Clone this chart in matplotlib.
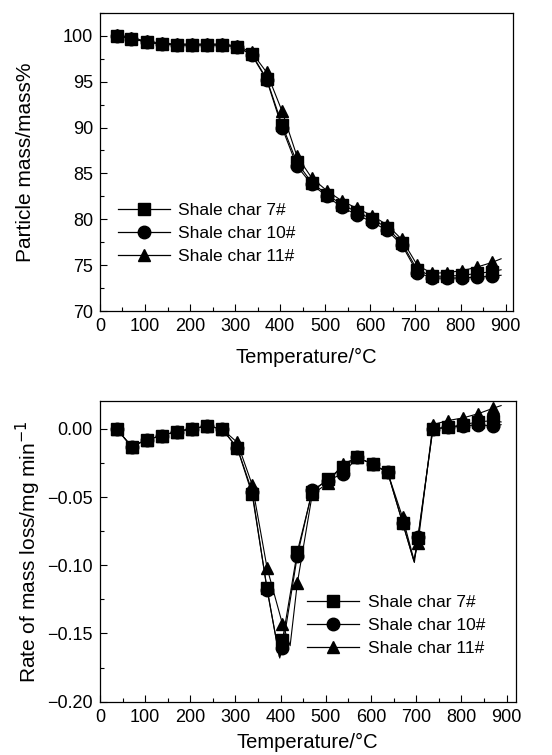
import numpy as np
import matplotlib.pyplot as plt
from matplotlib.lines import Line2D
from matplotlib.ticker import MultipleLocator, FuncFormatter

plt.rcParams['font.family'] = ['Liberation Sans', 'DejaVu Sans']

# temperatures of the marked points
T = [37, 70, 104, 137, 170, 204, 237, 270, 304, 337, 370, 404, 437,
     470, 504, 537, 570, 604, 637, 670, 704, 737, 770, 804, 837, 870]

# particle mass, mass%
m7 = [100.0, 99.7, 99.3, 99.1, 99.0, 99.0, 99.0, 99.0, 98.8, 98.0, 95.3, 90.3, 86.2,
      84.0, 82.7, 81.6, 80.8, 80.0, 79.1, 77.4, 74.5, 73.8, 73.8, 73.9, 74.1, 74.3]
m10 = [100.0, 99.7, 99.3, 99.1, 99.0, 99.0, 99.0, 99.0, 98.8, 97.9, 95.2, 90.0, 85.8,
       83.8, 82.5, 81.3, 80.5, 79.7, 78.8, 77.2, 74.2, 73.6, 73.6, 73.6, 73.7, 73.8]
m11 = [100.1, 99.8, 99.4, 99.2, 99.1, 99.1, 99.1, 99.1, 98.9, 98.2, 96.0, 91.8, 86.9,
       84.5, 83.1, 82.0, 81.2, 80.4, 79.4, 77.8, 75.0, 74.1, 74.2, 74.4, 74.8, 75.3]
# line end points beyond the last marker
m_end_T = 890
m_end = {"7": 74.5, "10": 73.9, "11": 75.7}

# rate of mass loss, mg/min
r7 = [0.000, -0.013, -0.008, -0.005, -0.002, 0.000, 0.002, 0.000, -0.014, -0.048, -0.117, -0.155, -0.090,
      -0.046, -0.037, -0.028, -0.021, -0.026, -0.032, -0.069, -0.080, 0.000, 0.001, 0.003, 0.005, 0.006]
r10 = [0.000, -0.013, -0.008, -0.005, -0.002, 0.000, 0.002, 0.000, -0.014, -0.046, -0.118, -0.161, -0.093,
       -0.045, -0.038, -0.033, -0.021, -0.026, -0.032, -0.069, -0.079, 0.000, 0.001, 0.002, 0.003, 0.002]
r11 = [0.000, -0.013, -0.008, -0.005, -0.002, 0.000, 0.002, 0.000, -0.010, -0.041, -0.102, -0.143, -0.113,
       -0.048, -0.040, -0.026, -0.021, -0.026, -0.032, -0.065, -0.084, 0.003, 0.006, 0.008, 0.011, 0.015]
# extra points of the raw curves (peak minima, end points)
r_extra = {
    "7": [(397, -0.167), (695, -0.097), (888, 0.005)],
    "10": [(398, -0.168), (696, -0.098), (888, 0.003)],
    "11": [(421, -0.159), (695, -0.096), (888, 0.017)],
}

labels = ["Shale char 7#", "Shale char 10#", "Shale char 11#"]
markers = ["s", "o", "^"]

fig = plt.figure(figsize=(5.52, 7.55), dpi=100)
ax1 = fig.add_axes([0.181, 0.588, 0.748, 0.395])
ax2 = fig.add_axes([0.181, 0.0706, 0.753, 0.398])

# top: mass curves
for key, y, mk in zip(["7", "10", "11"], [m7, m10, m11], markers):
    ax1.plot(T + [m_end_T], y + [m_end[key]], color="black", lw=0.8)
    ax1.plot(T, y, linestyle="none", marker=mk, color="black", ms=9)

# bottom: rate curves
for key, y, mk in zip(["7", "10", "11"], [r7, r10, r11], markers):
    pts = sorted(list(zip(T, y)) + r_extra[key])
    ax2.plot([p[0] for p in pts], [p[1] for p in pts], color="black", lw=0.8)
    ax2.plot(T, y, linestyle="none", marker=mk, color="black", ms=9)

handles = [Line2D([], [], color="black", lw=0.9, marker=mk, ms=9) for mk in markers]

ax1.set_xlim(0, 916)
ax1.set_ylim(70, 102.5)
ax1.yaxis.set_major_locator(MultipleLocator(5))
ax1.yaxis.set_minor_locator(MultipleLocator(2.5))
ax1.set_ylabel("Particle mass/mass%", fontsize=15, labelpad=20)
ax1.set_xlabel("Temperature/\u00b0C", fontsize=14.5, labelpad=9)
ax1.legend(handles, labels, loc="center left", bbox_to_anchor=(0.005, 0.26),
           frameon=False, fontsize=12.5, handlelength=3.0, labelspacing=0.45,
           handletextpad=0.5)

ax2.set_xlim(0, 920)
ax2.set_ylim(-0.20, 0.0202)
ax2.yaxis.set_major_locator(MultipleLocator(0.05))
ax2.yaxis.set_minor_locator(MultipleLocator(0.025))
ax2.yaxis.set_major_formatter(FuncFormatter(lambda v, p: f"{v:.2f}".replace("-", "\u2212")))
ax2.set_ylabel("Rate of mass loss/mg min$^{-1}$", fontsize=15, labelpad=3)
ax2.set_xlabel("Temperature/\u00b0C", fontsize=14.5, labelpad=5)
ax2.legend(handles, labels, loc="center left", bbox_to_anchor=(0.46, 0.255),
           frameon=False, fontsize=12.5, handlelength=3.0, labelspacing=0.45,
           handletextpad=0.5)

for ax in (ax1, ax2):
    ax.xaxis.set_major_locator(MultipleLocator(100))
    ax.xaxis.set_minor_locator(MultipleLocator(50))
    ax.tick_params(which="both", direction="in", labelsize=13, top=False, right=False)
    ax.tick_params(which="major", length=5, width=0.8, pad=5)
    ax.tick_params(which="minor", length=3, width=0.8)
    for s in ax.spines.values():
        s.set_linewidth(0.9)

fig.savefig("out.png", dpi=100)
plt.close(fig)
